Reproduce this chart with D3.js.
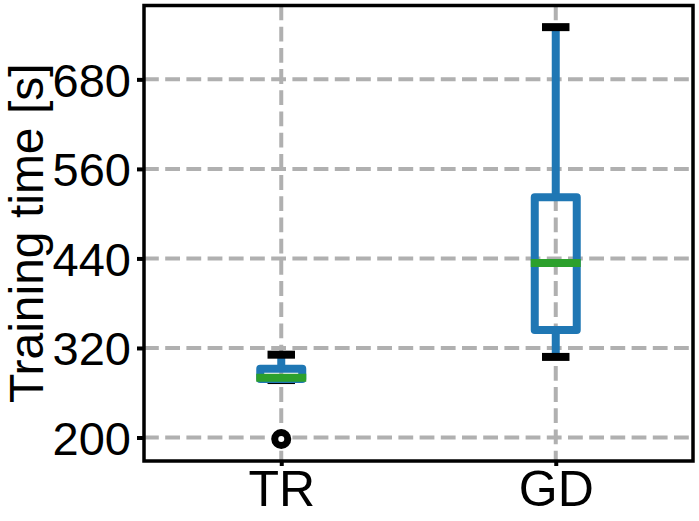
<!DOCTYPE html>
<html>
<head>
<meta charset="utf-8">
<script src="https://cdn.jsdelivr.net/npm/d3@7"></script>
<style>
  body { margin: 0; background: #fff; }
  svg { display: block; font-family: "Liberation Sans", Arial, sans-serif; }
</style>
</head>
<body>
<div id="chart"></div>
<script>
// data
const categories = ['TR', 'GD'];
const whiskerLow = [277, 308];
const q1 = [278.5, 344];
const median = [280, 434];
const q3 = [292, 522];
const whiskerHigh = [311, 750];
const fliers = [[198], []];
const yTicks = [200, 320, 440, 560, 680];
const yLabel = 'Training time [s]';

const margin = { top: 5.5, right: 6, bottom: 60, left: 144 };
const width = 699 - margin.left - margin.right;
const height = 521 - margin.top - margin.bottom;

const svg = d3.select('#chart')
    .append('svg')
    .attr('width', 699)
    .attr('height', 521);

const g = svg.append('g')
    .attr('transform', 'translate(' + margin.left + ',' + margin.top + ')');

const x = d3.scalePoint().domain(categories).range([0, width]).padding(0.5);
const y = d3.scaleLinear().domain([168.5, 779]).range([height, 0]);

const boxW = x.step() * 0.153;
const capW = x.step() * 0.1;

const rows = categories.map((c, i) => ({
    cat: c, lo: whiskerLow[i], q1: q1[i], med: median[i], q3: q3[i], hi: whiskerHigh[i], fl: fliers[i]
}));

// grid
const grid = g.append('g').attr('stroke', '#b0b0b0').attr('stroke-width', 4).attr('stroke-dasharray', '14.8,6.4');
grid.selectAll('.hg').data(yTicks).enter().append('line')
    .attr('x1', 0).attr('x2', width)
    .attr('y1', d => y(d)).attr('y2', d => y(d));
grid.selectAll('.vg').data(categories).enter().append('line')
    .attr('x1', d => x(d)).attr('x2', d => x(d))
    .attr('y1', 0).attr('y2', height);

// whiskers
const wh = g.append('g').attr('stroke', '#1f77b4').attr('stroke-width', 8);
rows.forEach(d => {
    wh.append('line').attr('x1', x(d.cat)).attr('x2', x(d.cat)).attr('y1', y(d.q1)).attr('y2', y(d.lo));
    wh.append('line').attr('x1', x(d.cat)).attr('x2', x(d.cat)).attr('y1', y(d.q3)).attr('y2', y(d.hi));
});

// caps
const caps = g.append('g').attr('stroke', '#000').attr('stroke-width', 8);
rows.forEach(d => {
    [d.lo, d.hi].forEach(v => {
        caps.append('line')
            .attr('x1', x(d.cat) - capW / 2).attr('x2', x(d.cat) + capW / 2)
            .attr('y1', y(v)).attr('y2', y(v));
    });
});

// boxes
g.append('g').selectAll('rect').data(rows).enter().append('rect')
    .attr('x', d => x(d.cat) - boxW / 2)
    .attr('width', boxW)
    .attr('y', d => y(d.q3))
    .attr('height', d => y(d.q1) - y(d.q3))
    .attr('fill', 'none')
    .attr('stroke', '#1f77b4')
    .attr('stroke-width', 8)
    .attr('stroke-linejoin', 'round');

// medians
g.append('g').selectAll('line').data(rows).enter().append('line')
    .attr('x1', d => x(d.cat) - boxW / 2).attr('x2', d => x(d.cat) + boxW / 2)
    .attr('y1', d => y(d.med)).attr('y2', d => y(d.med))
    .attr('stroke', '#2ca02c')
    .attr('stroke-width', 8)
    .attr('stroke-linecap', 'square');

// fliers
rows.forEach(d => {
    g.selectAll(null).data(d.fl).enter().append('circle')
        .attr('cx', x(d.cat)).attr('cy', v => y(v))
        .attr('r', 6.5)
        .attr('fill', '#fff')
        .attr('stroke', '#000')
        .attr('stroke-width', 7);
});

// axes
const yAxis = d3.axisLeft(y).tickValues(yTicks).tickSize(7).tickPadding(6);
const yG = g.append('g').call(yAxis);
yG.select('.domain').remove();
yG.selectAll('.tick line').attr('stroke', '#000').attr('stroke-width', 4);
yG.selectAll('.tick text').attr('font-size', 47).attr('fill', '#000').attr('dy', '0.36em');

const xAxis = d3.axisBottom(x).tickSize(5).tickPadding(5);
const xG = g.append('g').attr('transform', 'translate(0,' + height + ')').call(xAxis);
xG.select('.domain').remove();
xG.selectAll('.tick line').attr('stroke', '#000').attr('stroke-width', 4);
xG.selectAll('.tick text').attr('font-size', 50).attr('fill', '#000').attr('dy', '0.7em');

// frame
g.append('rect')
    .attr('width', width).attr('height', height)
    .attr('fill', 'none').attr('stroke', '#000').attr('stroke-width', 3.5);

svg.append('text')
    .attr('transform', 'translate(43,' + (margin.top + height / 2) + ') rotate(-90)')
    .attr('text-anchor', 'middle')
    .attr('font-size', 48)
    .attr('fill', '#000')
    .text(yLabel);
</script>
</body>
</html>
